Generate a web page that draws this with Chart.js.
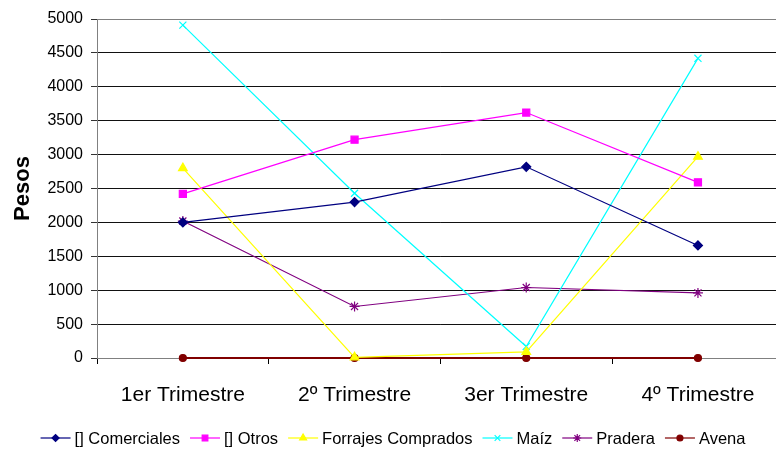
<!DOCTYPE html>
<html>
<head>
<meta charset="utf-8">
<script src="https://cdn.jsdelivr.net/npm/chart.js@4/dist/chart.umd.min.js"></script>
<style>
  html, body { margin: 0; padding: 0; background: #fff; overflow: hidden; }
  #wrap { width: 790px; height: 451px; }
</style>
</head>
<body>
<div id="wrap"><canvas id="c" width="790" height="451"></canvas></div>
<script>
// Quarterly amounts (pesos) per cost item
const trimestres = ['1er Trimestre', '2º Trimestre', '3er Trimestre', '4º Trimestre'];
const comerciales = [2000, 2300, 2820, 1660];
const otros = [2420, 3220, 3620, 2590];
const forrajesComprados = [2800, 10, 90, 2970];
const maiz = [4910, 2430, 170, 4420];
const pradera = [2020, 760, 1040, 960];
const avena = [0, 0, 0, 0];
const yTicks = [0, 500, 1000, 1500, 2000, 2500, 3000, 3500, 4000, 4500, 5000];

const FONT = 'Arial, "Liberation Sans", sans-serif';

function serie(label, data, color, style, radius, width) {
  return {
    label, data,
    borderColor: color, backgroundColor: color,
    borderWidth: width || 1.2,
    pointStyle: style, pointRadius: radius, pointHoverRadius: radius,
    pointBorderWidth: 1.2,
    tension: 0, fill: false,
    clip: 6
  };
}

// Bottom legend: short line with the series marker, then its name
const bottomLegend = {
  id: 'bottomLegend',
  afterDraw(chart) {
    const ctx = chart.ctx;
    const sets = chart.data.datasets;
    ctx.save();
    ctx.font = '16.5px ' + FONT;
    ctx.textBaseline = 'middle';
    const lineLen = 30, gapText = 4, gapItem = 10;
    const widths = sets.map(d => lineLen + gapText + ctx.measureText(d.label).width);
    const total = widths.reduce((a, b) => a + b, 0) + gapItem * (sets.length - 1);
    let x = 393 - total / 2;
    const y = 438;
    sets.forEach((d, i) => {
      ctx.strokeStyle = d.borderColor;
      ctx.fillStyle = d.backgroundColor;
      ctx.lineWidth = 1.2;
      ctx.beginPath();
      ctx.moveTo(x, y);
      ctx.lineTo(x + lineLen, y);
      ctx.stroke();
      Chart.helpers.drawPoint(ctx, {
        pointStyle: d.pointStyle,
        radius: Math.max(3, d.pointRadius - 1),
        rotation: 0,
        borderWidth: 1.2
      }, x + lineLen / 2, y);
      ctx.fillStyle = '#000';
      ctx.fillText(d.label, x + lineLen + gapText, y + 1);
      x += widths[i] + gapItem;
    });
    ctx.restore();
  }
};

new Chart(document.getElementById('c'), {
  type: 'line',
  data: {
    labels: trimestres,
    datasets: [
      serie('[] Comerciales', comerciales, '#000080', 'rectRot', 4.5),
      serie('[] Otros', otros, '#FF00FF', 'rect', 5),
      serie('Forrajes Comprados', forrajesComprados, '#FFFF00', 'triangle', 5),
      serie('Maíz', maiz, '#00FFFF', 'crossRot', 5),
      serie('Pradera', pradera, '#800080', 'star', 5),
      serie('Avena', avena, '#800000', 'circle', 3.5, 2)
    ]
  },
  options: {
    responsive: false,
    animation: false,
    events: [],
    layout: { padding: { top: 19, right: 5, bottom: 43, left: 0 } },
    plugins: {
      legend: { display: false },
      tooltip: { enabled: false }
    },
    scales: {
      x: {
        offset: true,
        grid: {
          offset: true,
          drawOnChartArea: false,
          drawTicks: true,
          tickLength: 6,
          color: '#000'
        },
        border: { color: '#808080', width: 1 },
        ticks: {
          color: '#000',
          font: { family: FONT, size: 21 },
          padding: 19,
          maxRotation: 0
        },
        afterFit(scale) { scale.height = 50; }
      },
      y: {
        min: 0,
        max: 5000,
        afterBuildTicks(scale) { scale.ticks = yTicks.map(v => ({ value: v })); },
        grid: {
          color: ctx => (ctx.tick && ctx.tick.value === 5000) ? '#808080' : '#111',
          lineWidth: 1,
          tickLength: 6,
          tickColor: '#333'
        },
        border: { color: '#808080', width: 1 },
        ticks: {
          color: '#000',
          font: { family: FONT, size: 16 },
          padding: 8,
          callback: v => String(v)
        },
        title: {
          display: true,
          text: 'Pesos',
          color: '#000',
          font: { family: FONT, size: 22, weight: 'bold' },
          padding: { top: 10, bottom: 4 }
        },
        afterFit(scale) { scale.width = 97; }
      }
    }
  },
  plugins: [bottomLegend]
});
</script>
</body>
</html>
